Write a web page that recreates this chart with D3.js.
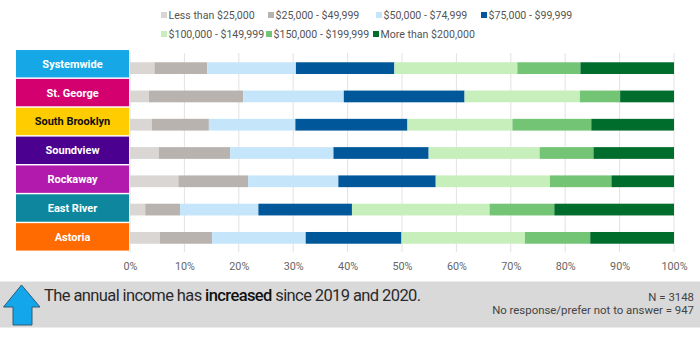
<!DOCTYPE html>
<html>
<head>
<meta charset="utf-8">
<script src="https://cdn.jsdelivr.net/npm/d3@7/dist/d3.min.js"></script>
<style>
  html, body { margin: 0; padding: 0; background: #ffffff; }
  svg { display: block; font-family: Roboto, "Noto Sans", sans-serif; }
</style>
</head>
<body>
<svg id="chart" width="700" height="337"></svg>
<script>
// ---------- data ----------
const categories = ["Systemwide", "St. George", "South Brooklyn", "Soundview", "Rockaway", "East River", "Astoria"];
const categoryColors = ["#16a8e6", "#d5006f", "#ffcc00", "#4b0090", "#b11aad", "#0e879e", "#ff6b00"];
const categoryTextColors = ["#ffffff", "#ffffff", "#111111", "#ffffff", "#ffffff", "#ffffff", "#ffffff"];
const seriesNames = ["Less than $25,000", "$25,000 - $49,999", "$50,000 - $74,999", "$75,000 - $99,999",
                     "$100,000 - $149,999", "$150,000 - $199,999", "More than $200,000"];
const seriesColors = ["#d9d6d4", "#b8b3ae", "#c5e5fa", "#00589b", "#c7efbc", "#74c476", "#006d2c"];
// percent values per category, in series order
const values = {
  "Systemwide":     [4.5, 9.7, 16.3, 18.1, 22.6, 11.6, 17.2],
  "St. George":     [3.5, 17.3, 18.5, 22.2, 21.2, 7.4, 9.9],
  "South Brooklyn": [4.0, 10.5, 15.9, 20.6, 19.3, 14.5, 15.2],
  "Soundview":      [5.3, 13.1, 19.0, 17.5, 20.4, 9.9, 14.8],
  "Rockaway":       [8.9, 12.8, 16.6, 17.9, 21.0, 11.3, 11.5],
  "East River":     [2.8, 6.4, 14.4, 17.2, 25.3, 11.9, 22.0],
  "Astoria":        [5.5, 9.6, 17.2, 17.6, 22.7, 12.0, 15.4]
};
const tickValues = [0, 10, 20, 30, 40, 50, 60, 70, 80, 90, 100];
const noteText = ["The annual income has ", "increased", " since 2019 and 2020."];
const footnotes = ["N = 3148", "No response/prefer not to answer = 947"];

// ---------- layout ----------
const svg = d3.select("#chart");
const x = d3.scaleLinear().domain([0, 100]).range([130, 674]);
const yBar = d3.scaleBand().domain(categories).range([54, 252]).paddingInner(0.585).paddingOuter(0.2925);
const yBox = d3.scaleBand().domain(categories).range([49.3, 251.3]).paddingInner(0.05).paddingOuter(0.025);

// gridlines
svg.append("g").selectAll("line").data(tickValues).join("line")
  .attr("x1", d => x(d)).attr("x2", d => x(d))
  .attr("y1", 53).attr("y2", 252)
  .attr("stroke", "#e2e2e2").attr("stroke-width", 1);

// stacked bars
const rows = categories.map(c => {
  const o = { cat: c };
  seriesNames.forEach((s, i) => o[s] = values[c][i]);
  return o;
});
const stack = d3.stack().keys(seriesNames)(rows);
svg.append("g").selectAll("g").data(stack).join("g")
  .attr("fill", (d, i) => seriesColors[i])
  .selectAll("rect").data(d => d).join("rect")
  .attr("x", d => x(d[0]))
  .attr("width", d => x(d[1]) - x(d[0]))
  .attr("y", d => yBar(d.data.cat))
  .attr("height", yBar.bandwidth());

// category label boxes
const boxes = svg.append("g").selectAll("g").data(categories).join("g");
boxes.append("rect")
  .attr("x", 16).attr("width", 113)
  .attr("y", d => yBox(d)).attr("height", yBox.bandwidth())
  .attr("fill", (d, i) => categoryColors[i]);
boxes.append("text")
  .attr("x", 72.5)
  .attr("y", d => yBox(d) + yBox.bandwidth() / 2)
  .attr("dy", "0.36em")
  .attr("text-anchor", "middle")
  .attr("font-size", 11).attr("font-weight", 700)
  .attr("fill", (d, i) => categoryTextColors[i])
  .text(d => d);

// x axis
const axis = d3.axisBottom(x).tickValues(tickValues).tickFormat(d => d + "%").tickSize(0).tickPadding(0);
const ax = svg.append("g").attr("transform", "translate(0,262)").call(axis);
ax.select(".domain").remove();
ax.selectAll("text").attr("font-size", 10.8).attr("fill", "#666").attr("font-family", "Roboto, sans-serif");

// legend
const legendPos = [[161, 15], [268, 15], [376, 15], [481, 15], [161, 34], [266, 34], [373, 34]];
const lg = svg.append("g").selectAll("g").data(seriesNames).join("g")
  .attr("transform", (d, i) => `translate(${legendPos[i][0]},${legendPos[i][1]})`);
lg.append("rect").attr("x", 0).attr("y", -3).attr("width", 6).attr("height", 6)
  .attr("fill", (d, i) => seriesColors[i]);
lg.append("text").attr("x", 7.5).attr("dy", "0.36em")
  .attr("font-size", 10.6).attr("fill", "#555").text(d => d);

// bottom panel
svg.append("rect").attr("x", 0).attr("y", 281.5).attr("width", 700).attr("height", 46).attr("fill", "#d9d9d9");
svg.append("path")
  .attr("d", "M21.5,285 L40,307 L32,307 L32,325 L13,325 L13,307 L3.5,307 Z")
  .attr("fill", "#14a6ea").attr("stroke", "#2f5a75").attr("stroke-width", 1);

const note = svg.append("text").attr("x", 44).attr("y", 300.5)
  .attr("font-size", 16.5).attr("letter-spacing", "-0.6px").attr("fill", "#2a2a2a");
noteText.forEach((t, i) => note.append("tspan")
  .attr("font-weight", i === 1 ? 500 : 400)
  .attr("fill", i === 1 ? "#111" : "#2a2a2a").text(t));

svg.append("g").selectAll("text").data(footnotes).join("text")
  .attr("x", 694).attr("y", (d, i) => 300.5 + i * 13.5)
  .attr("text-anchor", "end").attr("font-size", 11.4).attr("fill", "#444").text(d => d);
</script>
</body>
</html>
